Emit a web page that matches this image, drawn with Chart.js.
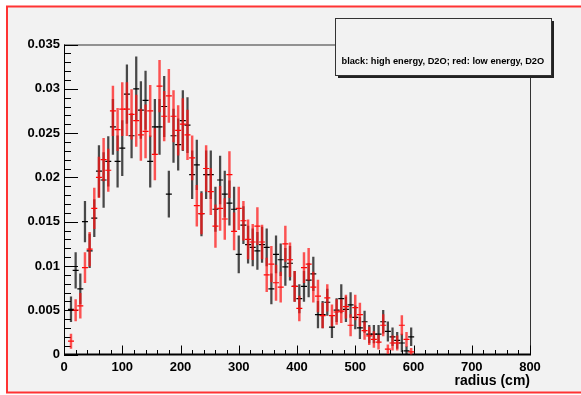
<!DOCTYPE html>
<html><head><meta charset="utf-8">
<script src="https://cdn.jsdelivr.net/npm/chart.js@4"></script>
<style>html,body{margin:0;padding:0;background:#fff}canvas{display:block}</style>
</head><body>
<div style="width:581px;height:395px"><canvas id="c" width="581" height="395"></canvas></div>
<script>
// bin centres (cm)
const radius = [4,12,20,28,36,44,52,60,68,76,84,92,100,108,116,124,132,140,148,156,164,172,180,188,196,204,212,220,228,236,244,252,260,268,276,284,292,300,308,316,324,332,340,348,356,364,372,380,388,396,404,412,420,428,436,444,452,460,468,476,484,492,500,508,516,524,532,540,548,556,564,572,580,588,596];
// black: high energy, D2O
const highEnergy = [null,0.0051,0.0095,0.0074,0.0150,0.0117,0.0154,0.0207,0.0197,0.0218,0.0257,0.0218,0.0233,0.0294,0.0247,0.0300,0.0276,0.0287,0.0218,0.0257,0.0257,0.0280,0.0181,0.0247,0.0237,0.0264,0.0259,0.0203,0.0214,0.0159,0.0203,0.0203,0.0164,0.0197,0.0181,0.0171,0.0164,0.0113,0.0146,0.0124,0.0121,0.0117,0.0124,0.0121,0.0074,0.0113,0.0107,0.0099,0.0103,0.0077,0.0063,0.0077,0.0084,0.0091,0.0045,0.0045,0.0059,0.0031,0.0050,0.0063,0.0051,0.0056,0.0042,0.0030,0.0037,0.0023,0.0023,0.0023,0.0037,0.0026,0.0020,0.0016,0.0013,0.0004,0.0020];
const highEnergyErr = [null,0.0014,0.0020,0.0017,0.0023,0.0019,0.0021,0.0029,0.0031,0.0028,0.0031,0.0029,0.0031,0.0033,0.0025,0.0036,0.0032,0.0033,0.0029,0.0031,0.0031,0.0034,0.0026,0.0030,0.0029,0.0034,0.0031,0.0027,0.0028,0.0025,0.0027,0.0027,0.0025,0.0027,0.0026,0.0025,0.0025,0.0021,0.0021,0.0021,0.0021,0.0021,0.0020,0.0021,0.0017,0.0021,0.0018,0.0021,0.0019,0.0017,0.0016,0.0017,0.0019,0.0019,0.0015,0.0015,0.0015,0.0012,0.0013,0.0016,0.0014,0.0014,0.0013,0.0012,0.0012,0.0010,0.0010,0.0010,0.0013,0.0011,0.0010,0.0009,0.0010,0.0005,0.0010];
// red: low energy, D2O
const lowEnergy = [null,0.0015,0.0050,0.0055,0.0098,0.0119,0.0165,0.0200,0.0220,0.0208,0.0275,0.0254,0.0277,0.0277,0.0271,0.0264,0.0248,0.0252,0.0275,0.0226,0.0303,0.0269,0.0292,0.0269,0.0253,0.0260,0.0248,0.0222,0.0168,0.0159,0.0210,0.0184,0.0145,0.0165,0.0153,0.0203,0.0139,0.0165,0.0151,0.0130,0.0127,0.0145,0.0127,0.0090,0.0102,0.0081,0.0076,0.0125,0.0107,0.0077,0.0052,0.0098,0.0102,0.0076,0.0066,0.0044,0.0064,0.0044,0.0048,0.0049,0.0054,0.0033,0.0053,0.0045,0.0027,0.0021,0.0017,0.0014,0.0033,0.0006,0.0013,0.0013,0.0033,0.0017,0.0003];
const lowEnergyErr = [null,0.0008,0.0012,0.0014,0.0017,0.0019,0.0023,0.0023,0.0024,0.0024,0.0028,0.0024,0.0030,0.0030,0.0028,0.0029,0.0029,0.0030,0.0029,0.0029,0.0029,0.0028,0.0030,0.0029,0.0028,0.0029,0.0028,0.0025,0.0023,0.0023,0.0026,0.0026,0.0024,0.0025,0.0023,0.0026,0.0021,0.0024,0.0022,0.0022,0.0020,0.0021,0.0019,0.0019,0.0020,0.0020,0.0017,0.0020,0.0019,0.0017,0.0014,0.0017,0.0018,0.0017,0.0018,0.0014,0.0015,0.0012,0.0014,0.0013,0.0013,0.0012,0.0014,0.0013,0.0010,0.0010,0.0009,0.0008,0.0012,0.0005,0.0008,0.0008,0.0011,0.0008,0.0004];
const xTickLabels = [0,100,200,300,400,500,600,700,800];
const yTickLabels = [0,0.005,0.01,0.015,0.02,0.025,0.03,0.035];
const legendText = 'black: high energy, D2O; red: low energy, D2O';
const xTitle = 'radius (cm)';

const FONT = "'Liberation Sans', Arial, Helvetica, sans-serif";
Chart.defaults.font.family = FONT;

function errBars(vals, errs) {
  const out = [];
  vals.forEach((v, i) => { if (v !== null) out.push({x: radius[i], y: [v - errs[i], v + errs[i]]}); });
  return out;
}
function centres(vals) {
  const out = [];
  vals.forEach((v, i) => { if (v !== null) out.push({x: radius[i], y: v}); });
  return out;
}

const bgPlugin = {
  id: 'bg',
  beforeDraw(chart) {
    const ctx = chart.ctx;
    ctx.save();
    ctx.fillStyle = '#ffffff';
    ctx.fillRect(0, 0, chart.width, chart.height);
    ctx.fillStyle = '#f2f2f2';
    ctx.fillRect(7, 6.5, 600, 386);
    ctx.strokeStyle = '#ff3333';
    ctx.lineWidth = 2;
    ctx.strokeRect(7, 6.5, 600, 386);
    ctx.restore();
  },
  beforeDatasetsDraw(chart) {
    const ctx = chart.ctx, a = chart.chartArea;
    const xs = chart.scales.x, ys = chart.scales.y;
    ctx.save();
    // frame
    ctx.strokeStyle = '#333';
    ctx.lineWidth = 1;
    ctx.beginPath();
    ctx.moveTo(a.left, a.top + 0.5); ctx.lineTo(a.right + 0.5, a.top + 0.5); ctx.lineTo(a.right + 0.5, a.bottom);
    ctx.stroke();
    // axes
    ctx.strokeStyle = '#000';
    ctx.beginPath(); ctx.moveTo(a.left + 0.5, a.top); ctx.lineTo(a.left + 0.5, a.bottom); ctx.stroke();
    ctx.lineWidth = 2;
    ctx.beginPath(); ctx.moveTo(a.left, a.bottom); ctx.lineTo(a.right + 1, a.bottom); ctx.stroke();
    // ticks (inward)
    ctx.lineWidth = 1;
    ctx.beginPath();
    for (let v = 0; v <= 800 + 1e-6; v += 20) {
      const px = Math.round(xs.getPixelForValue(v)) + 0.5;
      const len = (Math.abs(v % 100) < 1e-6) ? 9 : 4.5;
      ctx.moveTo(px, a.bottom); ctx.lineTo(px, a.bottom - len);
    }
    for (let i = 0; i <= 35; i++) {
      const v = i * 0.001;
      const py = Math.round(ys.getPixelForValue(v)) + 0.5;
      const len = (i % 5 === 0) ? 14 : 7;
      ctx.moveTo(a.left, py); ctx.lineTo(a.left + len, py);
    }
    ctx.stroke();
    ctx.restore();
  },
  afterDraw(chart) {
    const ctx = chart.ctx;
    ctx.save();
    // legend box with shadow
    ctx.fillStyle = '#222';
    ctx.fillRect(338, 75.5, 216, 2.5);
    ctx.fillRect(551.5, 21, 2.5, 57);
    ctx.fillStyle = '#f2f2f2';
    ctx.fillRect(335.5, 18.5, 216, 57);
    ctx.strokeStyle = '#333';
    ctx.lineWidth = 1;
    ctx.strokeRect(335.5, 18.5, 216, 57);
    ctx.fillStyle = '#000';
    ctx.font = 'bold 10px ' + FONT;
    const w = ctx.measureText(legendText).width;
    const size = 10 * 203 / w;
    ctx.font = 'bold ' + size.toFixed(2) + 'px ' + FONT;
    ctx.textBaseline = 'middle';
    ctx.textAlign = 'left';
    ctx.fillText(legendText, 341.5, 61.5);
    ctx.restore();
  }
};

new Chart(document.getElementById('c'), {
  data: {
    datasets: [
      {type: 'bar', data: errBars(lowEnergy, lowEnergyErr), backgroundColor: 'rgba(255,20,20,0.72)', borderWidth: 0, barThickness: 1.8, grouped: false, order: 0},
      {type: 'scatter', data: centres(lowEnergy), pointStyle: 'line', pointRadius: 3, borderColor: '#ff0000', borderWidth: 1.2, order: 0},
      {type: 'bar', data: errBars(highEnergy, highEnergyErr), backgroundColor: 'rgba(0,0,0,0.7)', borderWidth: 0, barThickness: 1.6, grouped: false, order: 1},
      {type: 'scatter', data: centres(highEnergy), pointStyle: 'line', pointRadius: 3, borderColor: '#000000', borderWidth: 1.2, order: 1}
    ]
  },
  options: {
    responsive: false,
    devicePixelRatio: 1,
    animation: false,
    events: [],
    layout: {padding: {left: 0, right: 51, top: 44.5, bottom: 0}},
    plugins: {legend: {display: false}, tooltip: {enabled: false}},
    scales: {
      x: {
        type: 'linear', min: 0, max: 800, offset: false,
        grid: {display: false, drawTicks: false}, border: {display: false},
        afterBuildTicks: s => { s.ticks = xTickLabels.map(v => ({value: v})); },
        ticks: {color: '#000', font: {size: 13, weight: 'bold'}, padding: 5, maxRotation: 0, autoSkip: false},
        afterFit: s => { s.height = 40.5; },
        title: {display: true, text: xTitle, align: 'end', color: '#000', font: {size: 14, weight: 'bold'}, padding: {top: 0, bottom: 5}}
      },
      y: {
        type: 'linear', min: 0, max: 0.035,
        grid: {display: false, drawTicks: false}, border: {display: false},
        afterBuildTicks: s => { s.ticks = yTickLabels.map(v => ({value: v})); },
        ticks: {color: '#000', font: {size: 13, weight: 'bold'}, padding: 4, autoSkip: false, callback: v => String(+Number(v).toFixed(3))},
        afterFit: s => { s.width = 64; }
      }
    }
  },
  plugins: [bgPlugin]
});
</script>
</body></html>
